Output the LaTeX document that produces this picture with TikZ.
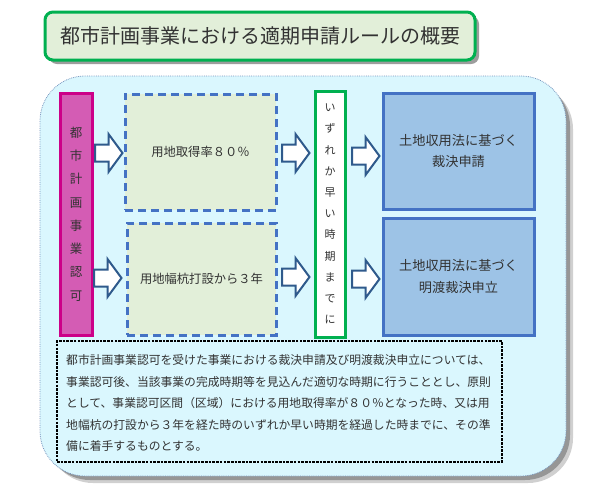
\documentclass[tikz,border=0pt]{standalone}
\usepackage{fontspec}
\setmainfont{Noto Sans CJK JP}
\usetikzlibrary{shadows}
\definecolor{bgcyan}{RGB}{218,247,254}
\definecolor{bgedge}{RGB}{120,150,190}
\definecolor{titlefill}{RGB}{226,239,217}
\definecolor{grn}{RGB}{0,176,80}
\definecolor{magfill}{RGB}{212,92,180}
\definecolor{magedge}{RGB}{204,0,136}
\definecolor{lgreen}{RGB}{226,239,217}
\definecolor{dblue}{RGB}{68,114,196}
\definecolor{bfill}{RGB}{157,195,230}
\definecolor{arrowedge}{RGB}{47,90,140}
\definecolor{txt}{RGB}{50,50,50}
\definecolor{shadowgray}{RGB}{150,150,150}
\tikzset{
  every node/.style={text=txt, inner sep=0pt},
  titlebox/.style={draw=grn, line width=3pt, fill=titlefill, rounded corners=8pt,
    minimum width=430pt, minimum height=48pt,
    drop shadow={shadow xshift=4pt, shadow yshift=-4pt, fill=black!55, opacity=0.7},
    font=\fontsize{20}{24}\selectfont},
  magbox/.style={draw=magedge, line width=3pt, fill=magfill, minimum width=32pt, minimum height=242pt,
    align=center, font=\fontsize{12.5}{23.3}\selectfont},
  dashbox/.style={draw=dblue, line width=3pt, dash pattern=on 8pt off 5pt, fill=lgreen,
    font=\fontsize{12.3}{15}\selectfont},
  grnbox/.style={draw=grn, line width=3pt, fill=white, minimum width=30pt, minimum height=246pt,
    align=center, font=\fontsize{11}{21.2}\selectfont},
  bluebox/.style={draw=dblue, line width=3pt, fill=bfill, minimum width=151pt, minimum height=116pt,
    align=center, font=\fontsize{13.2}{21.5}\selectfont},
  notebox/.style={draw=black, line width=2.6pt, dash pattern=on 2.6pt off 1.1pt,
    minimum width=445pt, minimum height=121pt},
  barrow/.style={draw=arrowedge, line width=2pt, fill=white, line join=miter},
}
\newcommand\blockarrow[2]{%
  \draw[barrow] (#1,#2-8.5) -- ++(13.5,0) -- ++(0,-10.5) -- ++(14,19) -- ++(-14,19)
    -- ++(0,-10.5) -- ++(-13.5,0) -- cycle;}
\begin{document}
\begin{tikzpicture}[x=1pt,y=-1pt]
\useasboundingbox (0,0) rectangle (600,491);
% background panel with shadow
\fill[shadowgray, opacity=0.45, rounded corners=45pt] (48,84) rectangle (573,483);
\fill[shadowgray, rounded corners=45pt] (45,81) rectangle (570,480);
\path[draw=bgedge, densely dotted, line width=0.8pt, fill=bgcyan, rounded corners=45pt]
  (40,76) rectangle (566,476);
% title
\node[titlebox] (title) at (260,36) {都市計画事業における適期申請ルールの概要};
% left vertical box
\node[magbox] (mag) at (76,214) {都\\市\\計\\画\\事\\業\\認\\可};
% dashed condition boxes
\node[dashbox, minimum width=151pt, minimum height=116pt] (c1) at (200.5,152) {用地取得率８０％};
\node[dashbox, minimum width=149pt, minimum height=112pt] (c2) at (201.5,279) {用地幅杭打設から３年};
% green vertical box
\node[grnbox] (g) at (330,214) {い\\ず\\れ\\か\\早\\い\\時\\期\\ま\\で\\に};
% result boxes
\node[bluebox] (r1) at (458.5,151) {土地収用法に基づく\\裁決申請};
\node[bluebox, minimum height=117pt] (r2) at (458.5,276.5) {土地収用法に基づく\\明渡裁決申立};
% block arrows
\blockarrow{95}{153}
\blockarrow{94}{278}
\blockarrow{282}{153}
\blockarrow{282}{277}
\blockarrow{352}{156}
\blockarrow{352}{279}
% note box
\node[notebox] (nb) at (279.5,401.5) {};
\node[anchor=west, align=left, font=\fontsize{11.8}{21.5}\selectfont] (note) at (66,403)
{都市計画事業認可を受けた事業における裁決申請及び明渡裁決申立については、\\
事業認可後、当該事業の完成時期等を見込んだ適切な時期に行うこととし、原則\\
として、事業認可区間（区域）における用地取得率が８０％となった時、又は用\\
地幅杭の打設から３年を経た時のいずれか早い時期を経過した時までに、その準\\
備に着手するものとする。};
\end{tikzpicture}
\end{document}
